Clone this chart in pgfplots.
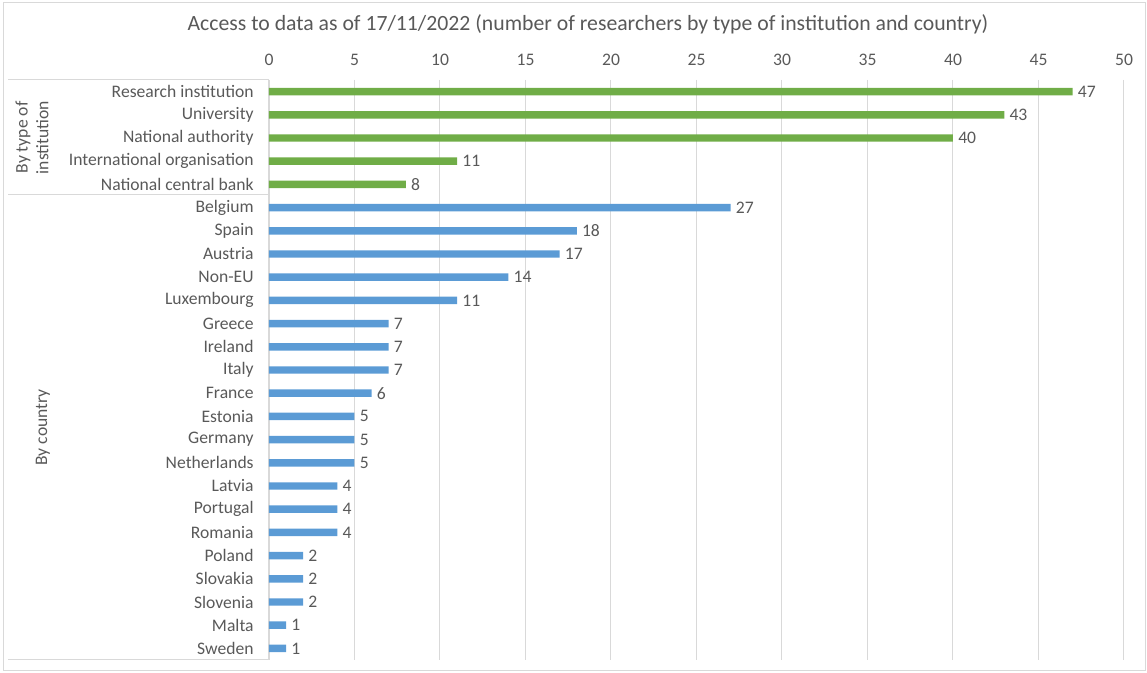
\documentclass[border=0pt]{standalone}
\usepackage{pgfplots}
\pgfplotsset{compat=1.18}
\usepackage{fontspec}
\setmainfont{Carlito}

\definecolor{instgreen}{HTML}{70AD47}
\definecolor{ctryblue}{HTML}{5B9BD5}
\definecolor{txtgray}{HTML}{595959}
\definecolor{linegray}{HTML}{D9D9D9}

\newcommand\lblfont{\fontsize{13.2}{15.5}\selectfont}

\begin{document}
\begin{tikzpicture}[x=0.75pt,y=0.75pt]
% canvas (1 unit = one pixel of the 1147 x 673 frame, y measured upward)
\path (0,0) rectangle (1147,673);
\draw[linegray, line width=0.75pt] (3,2) rectangle (1145,670);

% title
\node[txtgray, font=\fontsize{16.3}{19}\selectfont] at (588,649) {Access to data as of 17/11/2022 (number of researchers by type of institution and country)};

% group frame on the left
\draw[linegray, line width=0.75pt] (8,593) -- (269,593);
\draw[linegray, line width=0.75pt] (8,478) -- (269,478);
\draw[linegray, line width=0.75pt] (8,13) -- (269,13);
\draw[linegray, line width=0.75pt] (269,13) -- (269,593);

\node[txtgray, rotate=90, align=center, font=\lblfont] at (32,535.5) {By type of\\institution};
\node[txtgray, rotate=90, font=\lblfont] at (43,245.5) {By country};

\begin{axis}[
  at={(201.75pt,9.75pt)}, anchor=south west,
  scale only axis, width=641.25pt, height=435pt,
  xbar, bar width=5.6pt, bar shift=0pt,
  xmin=0, xmax=50, ymin=0.5, ymax=25.5, y dir=reverse,
  xtick={0,5,...,50}, xticklabel pos=right,
  ytick={1,...,25},
  yticklabels={Research institution,University,National authority,International organisation,National central bank,Belgium,Spain,Austria,Non-EU,Luxembourg,Greece,Ireland,Italy,France,Estonia,Germany,Netherlands,Latvia,Portugal,Romania,Poland,Slovakia,Slovenia,Malta,Sweden},
  xmajorgrids, grid style={linegray, line width=0.75pt},
  axis line style={draw=none},
  major tick length=0pt,
  tick label style={txtgray, font=\lblfont},
  /pgf/number format/assume math mode=true,
  yticklabel style={xshift=-8pt},
  xticklabel style={yshift=7pt},
  nodes near coords,
  nodes near coords style={txtgray, font=\lblfont, anchor=west, inner sep=0pt, xshift=3.75pt},
  point meta=x,
  every node near coord/.append style={/pgf/number format/assume math mode=true},
]
\addplot[fill=instgreen, draw=none] coordinates {
  (47,1) (43,2) (40,3) (11,4) (8,5)
};
\addplot[fill=ctryblue, draw=none] coordinates {
  (27,6) (18,7) (17,8) (14,9) (11,10) (7,11) (7,12) (7,13) (6,14)
  (5,15) (5,16) (5,17) (4,18) (4,19) (4,20) (2,21) (2,22) (2,23)
  (1,24) (1,25)
};
\end{axis}
\end{tikzpicture}
\end{document}
